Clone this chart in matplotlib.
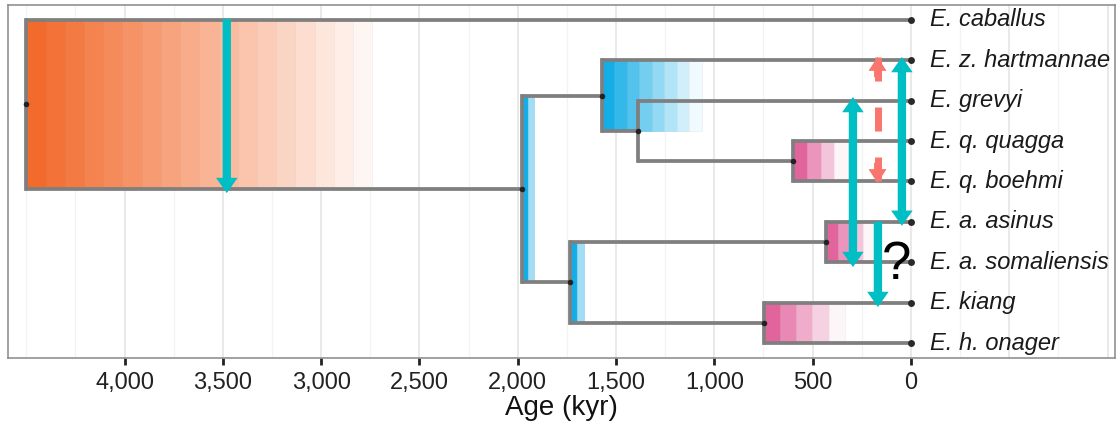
import matplotlib
matplotlib.use("Agg")
import matplotlib.pyplot as plt
from matplotlib.patches import Rectangle, FancyArrowPatch
import numpy as np

plt.rcParams['font.family'] = ['Liberation Sans', 'DejaVu Sans']

# ---------------- data ----------------
tip_labels = ["E. caballus", "E. z. hartmannae", "E. grevyi", "E. q. quagga",
              "E. q. boehmi", "E. a. asinus", "E. a. somaliensis", "E. kiang",
              "E. h. onager"]

node_names = ["root", "A", "B", "C", "D", "E", "F", "G"]
node_ages = [4500, 1980, 1572, 1389, 600, 1735, 432, 748]
node_children = {
    "root": ["E. caballus", "A"],
    "A": ["B", "E"],
    "B": ["E. z. hartmannae", "C"],
    "C": ["E. grevyi", "D"],
    "D": ["E. q. quagga", "E. q. boehmi"],
    "E": ["F", "G"],
    "F": ["E. a. asinus", "E. a. somaliensis"],
    "G": ["E. kiang", "E. h. onager"],
}

# age-uncertainty (HPD) boxes: node, younger bound, colour, number of steps
hpd_nodes = ["root", "B", "A", "E", "D", "F", "G"]
hpd_young = [2740, 1065, 1917, 1664, 320, 183, 336]
hpd_colors = ["#F26A2C", "#14ADE6", "#14ADE6", "#14ADE6", "#E2649D", "#E2649D", "#E2649D"]
hpd_steps = [18, 8, 2, 2, 4, 4, 5]

# gene-flow arrows (age, from y, to y, double-headed)
flow_age = [3480, 46, 295, 168]
flow_from = [9.02, 8.08, 7.09, 4.0]
flow_to = [4.71, 3.90, 2.88, 1.89]
flow_double = [False, True, True, False]

# dashed (uncertain) arrow
dash_age = 170
dash_from = 8.08
dash_to = 4.96

# question mark
q_age = 72
q_y = 2.93

x_ticks = [4000, 3500, 3000, 2500, 2000, 1500, 1000, 500, 0]

# ---------------- layout ----------------
n_tips = len(tip_labels)
ypos = {lab: n_tips - i for i, lab in enumerate(tip_labels)}
xpos = {lab: 0 for lab in tip_labels}
for nm, ag in zip(node_names, node_ages):
    xpos[nm] = ag


def get_y(n):
    if n in ypos:
        return ypos[n]
    ys = [get_y(c) for c in node_children[n]]
    ypos[n] = sum(ys) / len(ys)
    return ypos[n]


for nm in node_names:
    get_y(nm)

fig = plt.figure(figsize=(11.2, 4.32), dpi=100)
ax = fig.add_axes([0.00714, 0.1713, 0.9884, 0.8171])
ax.set_xlim(4593, -1038)
ax.set_ylim(0.629, 9.366)

# grid
for v in [-1000, -500] + x_ticks:
    ax.axvline(v, color="#E3E3E3", lw=1.1, zorder=0)
for v in [-750, -250, 250, 750, 1250, 1750, 2250, 2750, 3250, 3750, 4250, 4500]:
    ax.axvline(v, color="#F3F3F3", lw=0.9, zorder=0)


def mix(c, t):
    rgb = np.array(matplotlib.colors.to_rgb(c))
    return tuple(rgb * (1 - t) + np.ones(3) * t)


def darker(c, f=0.93):
    return tuple(np.array(c) * f)


# HPD boxes
for nm, young, col, n in zip(hpd_nodes, hpd_young, hpd_colors, hpd_steps):
    old = xpos[nm]
    ys = [ypos[c] for c in node_children[nm]]
    y0, y1 = min(ys), max(ys)
    edges = np.linspace(old, young, n + 1)
    for i in range(n):
        t = 0.94 * i / max(n - 1, 1) if n > 2 else 0.6 * i
        fc = mix(col, t)
        r = Rectangle((edges[i + 1], y0), edges[i] - edges[i + 1], y1 - y0,
                      facecolor=fc, edgecolor=darker(fc, 0.96), lw=0.5, zorder=1)
        ax.add_patch(r)

# branches
bcol = "#7F7F7F"
blw = 2.7
for nm in node_names:
    px = xpos[nm]
    ys = [ypos[c] for c in node_children[nm]]
    ax.plot([px, px], [min(ys), max(ys)], color=bcol, lw=blw,
            solid_capstyle="projecting", zorder=2)
    for c in node_children[nm]:
        ax.plot([px, xpos[c]], [ypos[c], ypos[c]], color=bcol, lw=blw,
                solid_capstyle="butt", zorder=2)

# dots
ax.plot([xpos[nm] for nm in node_names], [ypos[nm] for nm in node_names],
        "o", color="#222222", ms=4, zorder=3, mec="none")
ax.plot([0] * n_tips, [ypos[t] for t in tip_labels], "o", color="#2a2a2a",
        ms=5, zorder=3, mec="none")

# tip labels
for t in tip_labels:
    ax.text(-97, ypos[t], t, fontsize=17, style="italic", va="center",
            ha="left", color="#1a1a1a", zorder=6)

# arrows
teal = "#00BFC4"
salmon = "#F8766D"


def simple_arrow(x, ya, yb, color, tw, hw, hl):
    p = FancyArrowPatch((x, ya), (x, yb),
                        arrowstyle=f"simple,head_length={hl},head_width={hw},tail_width={tw}",
                        mutation_scale=1, color=color, lw=0, shrinkA=0, shrinkB=0,
                        zorder=5)
    ax.add_patch(p)


for x, ya, yb, dbl in zip(flow_age, flow_from, flow_to, flow_double):
    if dbl:
        mid = (ya + yb) / 2
        simple_arrow(x, mid, ya, teal, 6.0, 15.5, 11.0)
        simple_arrow(x, mid, yb, teal, 6.0, 15.5, 11.0)
    else:
        simple_arrow(x, ya, yb, teal, 6.0, 15.5, 11.0)

ax.plot([dash_age, dash_age], [dash_from, dash_to], color=salmon, lw=5,
        dashes=(3.46, 3.74), solid_capstyle="butt", zorder=5)
simple_arrow(dash_age, dash_from - 0.5, dash_from, salmon, 5.0, 13.0, 10.0)
simple_arrow(dash_age, dash_to + 0.5, dash_to, salmon, 5.0, 13.0, 10.0)

ax.text(q_age, q_y, "?", fontsize=38, ha="center", va="center", color="black",
        zorder=6)

# axes styling
ax.set_yticks([])
ax.set_xticks(x_ticks)
ax.set_xticklabels([f"{v:,}" for v in x_ticks])
ax.tick_params(axis="x", length=5, width=2, color="#222222", labelsize=17,
               labelcolor="#222222", pad=5)
for s in ax.spines.values():
    s.set_color("#888888")
    s.set_linewidth(1.1)
ax.set_xlabel("Age (kyr)", fontsize=20, color="#111111", labelpad=1)

fig.savefig("out.png", dpi=100)
